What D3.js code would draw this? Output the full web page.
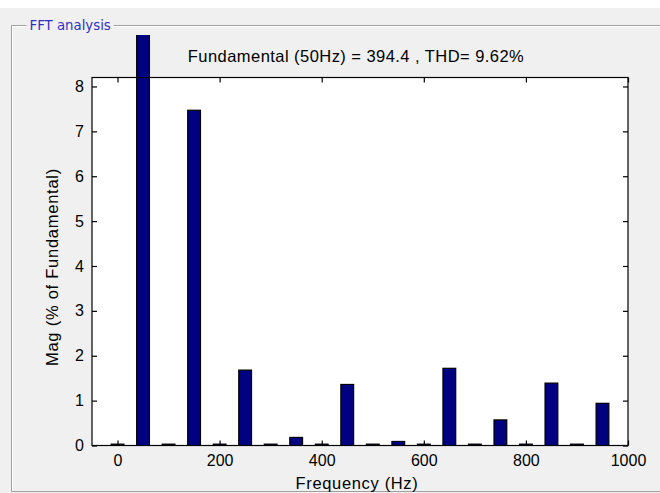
<!DOCTYPE html>
<html><head><meta charset="utf-8">
<script src="https://cdn.jsdelivr.net/npm/d3@7"></script>
<style>
html,body{margin:0;padding:0;background:#f0f0f0;}
svg{display:block;}
text{font-family:"Liberation Sans",Arial,sans-serif;}
</style></head>
<body>
<script>
const freqs = [0,50,100,150,200,250,300,350,400,450,500,550,600,650,700,750,800,850,900,950];
const mags  = [0.03,100,0.03,7.47,0.03,1.68,0.03,0.18,0.03,1.36,0.03,0.09,0.03,1.72,0.03,0.57,0.03,1.39,0.03,0.94];
const xTicks = [0,200,400,600,800,1000];
const yTicks = [0,1,2,3,4,5,6,7,8];
const titleText = "Fundamental (50Hz) = 394.4 , THD= 9.62%";
const panelTitle = "FFT analysis";
const xLabel = "Frequency (Hz)";
const yLabel = "Mag (% of Fundamental)";

const W = 660, H = 493;
const svg = d3.select("body").append("svg").attr("width", W).attr("height", H);

// background
svg.append("rect").attr("width", W).attr("height", H).attr("fill", "#f0f0f0");
svg.append("rect").attr("width", W).attr("height", 8).attr("fill", "#ffffff");

// panel frame (etched)
const fr = {x:11.5, y:25.5, r:W+5, b:491.5};
svg.append("path").attr("d", `M${fr.r},${fr.y+1} H${fr.x+1} V${fr.b-1}`).attr("fill","none").attr("stroke","#ffffff");
svg.append("path").attr("d", `M${fr.r},${fr.y} H${fr.x} V${fr.b} H${fr.r}`).attr("fill","none").attr("stroke","#a0a0a0");
const pt = svg.append("text").attr("x", 29.5).attr("y", 29.5).attr("font-size", 13.3)
  .attr("fill", "#3030c8").style("font-family","'DejaVu Sans',Tahoma,sans-serif").text(panelTitle);
const bb = pt.node().getBBox();
svg.insert("rect", "text").attr("x", bb.x-3).attr("y", 18).attr("width", bb.width+6).attr("height", 12).attr("fill","#f0f0f0");
pt.raise();

const m = {l:92, r:628, t:77.5, b:445.5};
const x = d3.scaleLinear().domain([-50,1000]).range([m.l, m.r]);
const y = d3.scaleLinear().domain([0,8.2]).range([m.b, m.t]);

// plot area
svg.append("rect").attr("x", m.l).attr("y", m.t).attr("width", m.r-m.l).attr("height", m.b-m.t).attr("fill","#ffffff");

// bars (clipped just below the panel top)
svg.append("clipPath").attr("id","clip").append("rect")
  .attr("x", m.l).attr("y", 35).attr("width", m.r-m.l).attr("height", m.b-35);
const bw = x(25)-x(0);
svg.append("g").attr("clip-path","url(#clip)").selectAll("rect").data(freqs).join("rect")
  .attr("x", (d)=>x(d)-bw/2)
  .attr("width", bw)
  .attr("y", (d,i)=>y(mags[i]))
  .attr("height", (d,i)=>y(0)-y(mags[i]))
  .attr("fill", "#000080").attr("stroke","#000000").attr("stroke-width",1.2);

// axes
const fs = 16;
const gx = svg.append("g").attr("transform",`translate(0,${m.b})`)
  .call(d3.axisBottom(x).tickValues(xTicks).tickFormat(d3.format("d")).tickSizeInner(-5).tickSizeOuter(0).tickPadding(9));
const gxt = svg.append("g").attr("transform",`translate(0,${m.t})`)
  .call(d3.axisTop(x).tickValues(xTicks).tickSizeInner(-5).tickSizeOuter(0).tickFormat(""));
const gy = svg.append("g").attr("transform",`translate(${m.l},0)`)
  .call(d3.axisLeft(y).tickValues(yTicks).tickSizeInner(-5).tickSizeOuter(0).tickPadding(8));
const gyr = svg.append("g").attr("transform",`translate(${m.r},0)`)
  .call(d3.axisRight(y).tickValues(yTicks).tickSizeInner(-5).tickSizeOuter(0).tickFormat(""));
[gx,gxt,gy,gyr].forEach(g=>{
  g.select(".domain").remove();
  g.selectAll("line").attr("stroke","#000").attr("stroke-width",1.2);
  g.selectAll("text").attr("font-size",fs).attr("fill","#000").style("font-family","'Liberation Sans',Arial,sans-serif");
});
// box
svg.append("rect").attr("x", m.l).attr("y", m.t).attr("width", m.r-m.l).attr("height", m.b-m.t)
  .attr("fill","none").attr("stroke","#000").attr("stroke-width",1.2);

// labels
const lfs = 16.5;
svg.append("text").attr("x", 356).attr("y", 62).attr("text-anchor","middle")
  .attr("font-size", lfs).attr("letter-spacing", 0.45).attr("fill","#000").text(titleText);
svg.append("text").attr("x", 357).attr("y", 489).attr("text-anchor","middle")
  .attr("font-size", lfs).attr("letter-spacing", 0.65).attr("fill","#000").text(xLabel);
svg.append("text").attr("transform", `translate(58,267) rotate(-90)`).attr("text-anchor","middle")
  .attr("font-size", lfs).attr("letter-spacing", 0.75).attr("fill","#000").text(yLabel);
</script>
</body></html>
